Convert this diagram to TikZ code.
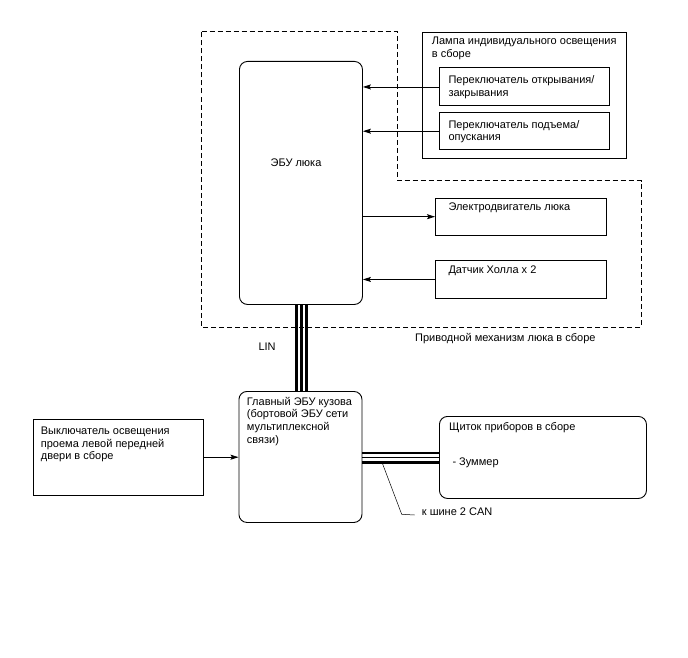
\documentclass[tikz,border=0pt]{standalone}
\usepackage{fontspec}
\setmainfont{Liberation Sans}
\usetikzlibrary{arrows.meta}

\begin{document}
\begin{tikzpicture}[x=1pt,y=-1pt,
  every node/.style={font=\fontsize{11}{12.7}\selectfont},
  box/.style={draw,line width=0.9pt,inner sep=0pt},
  rbox/.style={box,rounded corners=8pt},
  txt/.style={anchor=base west,inner sep=0pt,align=left},
  arr/.style={-{Stealth[length=8pt,width=5pt,inset=1.5pt]},line width=0.8pt},
  bus/.style={line width=2.2pt}]
  \useasboundingbox (0,0) rectangle (688,658);
  \draw[line width=0.9pt,dash pattern=on 5pt off 3pt] (201.5,31.5) -- (397,31.5) -- (397,180.5) -- (641,180.5) -- (641,327) -- (201.5,327) -- cycle;
  \node[rbox,minimum width=123,minimum height=243,anchor=north west] (ecu) at (239,61) {};
  \node[inner sep=0pt,anchor=base] (ecutxt) at (296,166.7) {ЭБУ люка};
  \node[box,line width=1.2pt,minimum width=204,minimum height=126,anchor=north west] (lamp) at (422,32) {};
  \node[txt] (lamptxt) at (431.7,57.7) {Лампа индивидуального освещения\\в сборе};
  \node[box,minimum width=170.5,minimum height=38,anchor=north west] (sw1) at (438.5,67.5) {};
  \node[txt] (sw1txt) at (448.3,96.7) {Переключатель открывания/\\закрывания};
  \node[box,minimum width=170.5,minimum height=37.5,anchor=north west] (sw2) at (438.5,112) {};
  \node[txt] (sw2txt) at (448.3,141) {Переключатель подъема/\\опускания};
  \node[box,minimum width=171,minimum height=37.5,anchor=north west] (motor) at (435,197.5) {};
  \node[txt] (motortxt) at (448.3,210) {Электродвигатель люка};
  \node[box,minimum width=171,minimum height=38,anchor=north west] (hall) at (435,260) {};
  \node[txt] (halltxt) at (448.3,273.3) {Датчик Холла x 2};
  \node[txt] (mech) at (415,341) {Приводной механизм люка в сборе};
  \node[rbox,minimum width=123,minimum height=131,anchor=north west] (bcm) at (238.5,391) {};
  \node[txt] (bcmtxt) at (246.7,443.1) {Главный ЭБУ кузова\\(бортовой ЭБУ сети\\мультиплексной\\связи)};
  \node[box,minimum width=170.5,minimum height=76.5,anchor=north west] (door) at (32.5,418.5) {};
  \node[txt] (doortxt) at (40.7,459.7) {Выключатель освещения\\проема левой передней\\двери в сборе};
  \node[rbox,minimum width=207,minimum height=82,anchor=north west] (meter) at (439,416) {};
  \node[txt] (metertxt) at (449,430.7) {Щиток приборов в сборе};
  \node[txt] (buzzer) at (452.3,465.7) {- Зуммер};
  \node[txt] (lin) at (258.3,350) {LIN};
  \node[txt] (can) at (421.7,515) {к шине 2 CAN};
  \draw[arr] (sw1.west) -- (ecu.east |- sw1.west);
  \draw[arr] (sw2.west) -- (ecu.east |- sw2.west);
  \draw[arr] (ecu.east |- motor.west) -- (motor.west);
  \draw[arr] (hall.west) -- (ecu.east |- hall.west);
  \draw[arr] (door.east) -- (bcm.west |- door.east);
  \foreach \dx in {-4.5,0.5,5.5}
    \draw[bus] ([xshift=\dx]ecu.south) -- ([xshift=\dx]ecu.south |- bcm.north);
  \draw[bus,line width=2.6pt] ([yshift=-5]bcm.east |- meter.west) -- ([yshift=-5]meter.west);
  \draw[line width=0.8pt] ([yshift=-0.3]bcm.east |- meter.west) -- ([yshift=-0.3]meter.west);
  \draw[bus,line width=2.6pt] ([yshift=4.5]bcm.east |- meter.west) -- ([yshift=4.5]meter.west);
  \coordinate (tap) at (381.7,461.5);
  \draw[line width=0.5pt] (tap) -- (401.7,514.3) -- ([xshift=-7]can.base west);
\end{tikzpicture}
\end{document}
